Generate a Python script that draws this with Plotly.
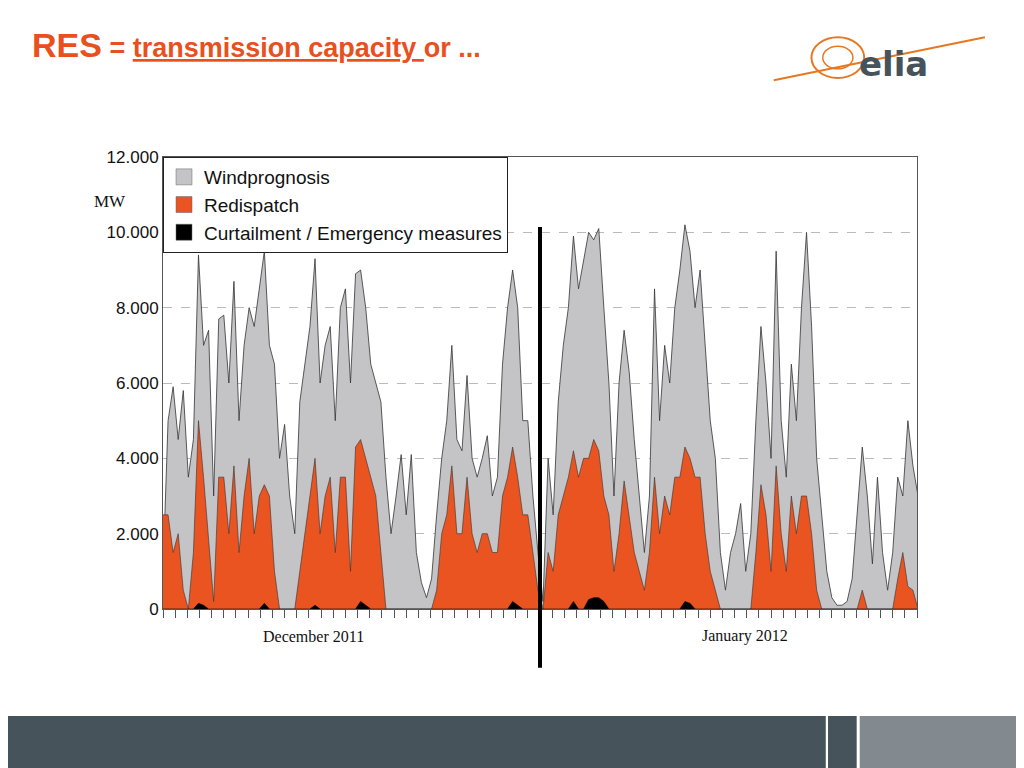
import pandas as pd
import plotly.graph_objects as go

# samples every 10 hours from 1 Dec 2011
wind = [1000,5000,5900,4500,5800,3500,4500,9400,7000,7400,3000,7700,7800,6000,8700,5000,7000,8000,7500,8500,
        9500,7000,6500,4000,4900,3000,2000,5500,6500,7500,9300,6000,7000,7500,5000,8000,8500,6000,8900,9000,
        8000,6500,6000,5500,3500,2000,3000,4100,2500,4100,1500,700,300,800,2500,4000,5000,7000,4500,4200,
        6200,4000,3500,4000,4600,3000,3500,6500,8000,9000,8000,5000,5000,3000,1500,200,4000,2500,5500,7000,
        8000,9900,8500,9200,10000,9800,10100,8000,6000,3000,6000,7400,6300,4500,3000,1500,3000,8500,5000,7000,
        6000,8000,9000,10200,9500,8000,9000,7000,5000,4000,1500,500,1500,2000,2800,1000,2000,5000,7500,6000,
        4000,9500,5000,3500,6500,5000,8000,10000,7500,4000,2500,1000,300,100,100,200,800,2500,4300,3000,
        1200,3500,1500,500,1500,3500,3000,5000,3800,3000,4500]
redispatch = [2500,2500,1500,2000,500,0,1500,5000,3500,1800,200,3500,3500,2000,3800,1500,3000,4000,2000,3000,
              3300,3000,1000,0,0,0,0,1000,2000,3000,4000,2000,3000,3500,1500,3500,3500,1000,4300,4500,
              4000,3500,3000,1500,0,0,0,0,0,0,0,0,0,0,500,2000,2500,3800,2000,2000,
              3500,2000,1500,2000,2000,1500,1500,3000,3500,4300,3500,2500,2500,1500,500,0,1500,1000,2500,3000,
              3500,4200,3500,4000,4000,4500,4200,3000,2500,1000,2000,3400,2500,1500,1000,500,1500,3500,2000,3000,
              2500,3500,3500,4300,4000,3500,3500,2000,1000,500,0,0,0,0,0,0,0,1500,3300,2500,
              1000,3800,2000,1000,3000,2000,3000,3000,2000,500,0,0,0,0,0,0,0,0,500,0,
              0,0,0,0,0,800,1500,600,500,0,0]
curtail_peaks = {7: 150, 8: 100, 20: 150, 30: 100, 39: 200, 40: 100, 69: 200, 70: 100,
                 81: 200, 84: 250, 85: 300, 86: 300, 87: 200, 103: 200, 104: 150}
curtail = [curtail_peaks.get(i, 0) for i in range(len(wind))]
times = pd.date_range("2011-12-01", periods=len(wind), freq="10h")

y_ticks = [0, 2000, 4000, 6000, 8000, 10000, 12000]
y_labels = ["0", "2.000", "4.000", "6.000", "8.000", "10.000", "12.000"]

series = [("Windprognosis", wind, "#c4c3c6", "#333", 0.8),
          ("Redispatch", redispatch, "#e95420", "#333", 0.6),
          ("Curtailment / Emergency measures", curtail, "#000", "#000", 0.6)]

fig = go.Figure()
for name, vals, fillc, linec, w in series:
    fig.add_trace(go.Scatter(x=times, y=vals, name=name, fill="tozeroy", showlegend=False,
                             fillcolor=fillc, line=dict(color=linec, width=w)))
# legend entries with square swatches
for name, vals, fillc, linec, w in series:
    fig.add_trace(go.Scatter(x=[None], y=[None], name=name, mode="markers",
                             marker=dict(symbol="square", size=18, color=fillc,
                                         line=dict(color="#666", width=0.5))))

fig.update_layout(
    width=1024, height=768, plot_bgcolor="white", paper_bgcolor="white",
    margin=dict(l=155, r=115, t=149, b=167),
    font=dict(family="Liberation Sans, Arial", size=17, color="#111"),
    legend=dict(x=0.0, y=1.0, xanchor="left", yanchor="top", bgcolor="white",
                bordercolor="#222", borderwidth=1, font=dict(size=19), tracegroupgap=0),
    xaxis=dict(range=["2011-12-01", "2012-02-01"], showticklabels=False, ticks="outside",
               ticklen=8, tickcolor="#555", dtick=86400000, tick0="2011-12-01",
               showgrid=False, showline=True, linecolor="#555", mirror=True),
    yaxis=dict(range=[0, 12000], tickvals=y_ticks, ticktext=y_labels, showgrid=True,
               gridcolor="#bbb", griddash="dash", showline=True, linecolor="#555", mirror=True,
               ticks="", zeroline=False),
    shapes=[
        dict(type="line", xref="x", yref="paper", x0="2012-01-01", x1="2012-01-01",
             y0=-0.13, y1=0.845, line=dict(color="black", width=4)),
        dict(type="rect", xref="paper", yref="paper", x0=-0.3, x1=0.879, y0=-0.237, y1=-0.40,
             fillcolor="#46535a", line_width=0, layer="below"),
        dict(type="rect", xref="paper", yref="paper", x0=0.882, x1=0.920, y0=-0.237, y1=-0.40,
             fillcolor="#46535a", line_width=0, layer="below"),
        dict(type="rect", xref="paper", yref="paper", x0=0.924, x1=1.3, y0=-0.237, y1=-0.40,
             fillcolor="#838a8f", line_width=0, layer="below"),
        dict(type="line", xref="paper", yref="paper", x0=0.81, x1=1.09, y0=1.17, y1=1.265,
             line=dict(color="#e87722", width=2)),
        dict(type="circle", xref="paper", yref="paper", x0=0.86, x1=0.93, y0=1.175, y1=1.265,
             line=dict(color="#e87722", width=2)),
        dict(type="circle", xref="paper", yref="paper", x0=0.875, x1=0.915, y0=1.195, y1=1.245,
             line=dict(color="#e87722", width=1.5)),
    ],
    annotations=[
        dict(text="<b><span style='font-size:34px'>RES</span> = <u>transmission capacity </u>or ...</b>",
             xref="paper", yref="paper", x=-0.176, y=1.248, xanchor="left", yanchor="middle",
             showarrow=False, font=dict(size=27, color="#e8501e")),
        dict(text="<b>elia</b>", xref="paper", yref="paper", x=0.92, y=1.205, xanchor="left",
             yanchor="middle", showarrow=False,
             font=dict(size=34, color="#46535a", family="DejaVu Sans")),
        dict(text="MW", xref="paper", yref="paper", x=-0.07, y=0.927, xanchor="center",
             showarrow=False, font=dict(family="Liberation Serif", size=17)),
        dict(text="December 2011", xref="paper", yref="paper", x=0.2, y=-0.06, xanchor="center",
             yanchor="middle", showarrow=False, font=dict(family="Liberation Serif", size=16)),
        dict(text="January 2012", xref="paper", yref="paper", x=0.772, y=-0.06, xanchor="center",
             yanchor="middle", showarrow=False, font=dict(family="Liberation Serif", size=16)),
    ],
)

fig.write_html("out.html")
